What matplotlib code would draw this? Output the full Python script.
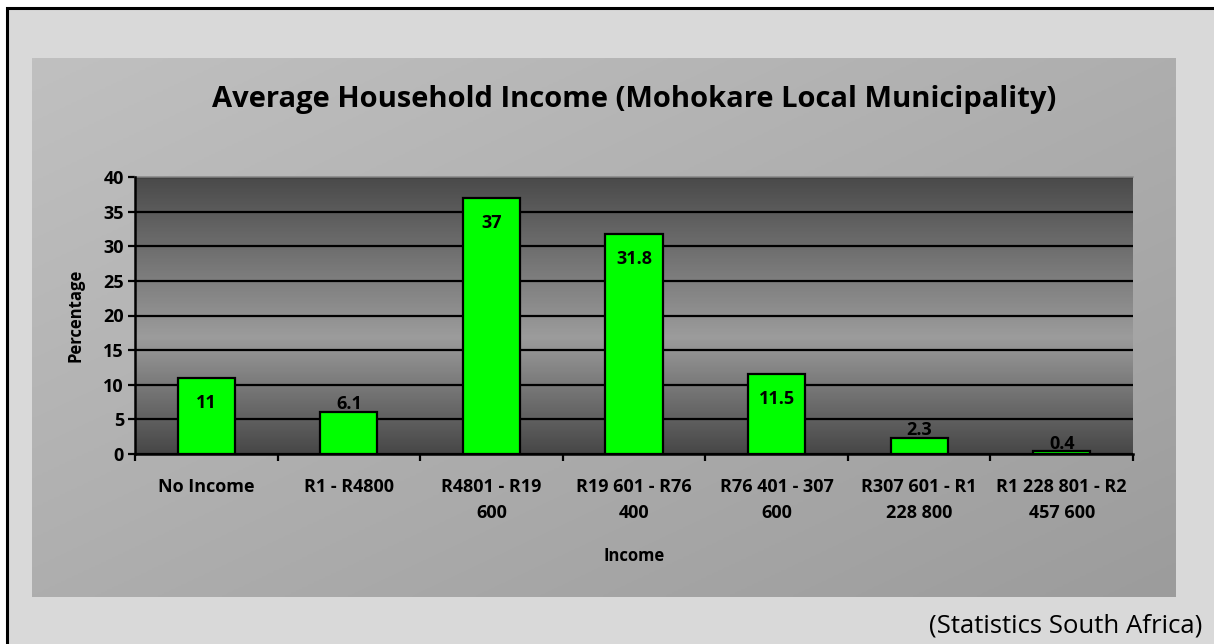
import numpy as np
import matplotlib
matplotlib.use('Agg')
import matplotlib.pyplot as plt
from matplotlib.patches import Rectangle
from matplotlib.colors import LinearSegmentedColormap

plt.rcParams['font.family'] = ['Open Sans', 'DejaVu Sans']

# data
categories = ['No Income', 'R1 - R4800', 'R4801 - R19\n600', 'R19 601 - R76\n400',
              'R76 401 - 307\n600', 'R307 601 - R1\n228 800', 'R1 228 801 - R2\n457 600']
values = [11, 6.1, 37, 31.8, 11.5, 2.3, 0.4]
value_labels = ['11', '6.1', '37', '31.8', '11.5', '2.3', '0.4']
yticks = [0, 5, 10, 15, 20, 25, 30, 35, 40]

W, H = 1214, 644
fig = plt.figure(figsize=(W / 100, H / 100), dpi=100)
fig.patch.set_facecolor('white')

# outer light background with black frame (right and bottom edges fall off the canvas)
fig.patches.append(Rectangle((7 / W, 1 - 660 / H), (1230 - 7) / W, (660 - 8) / H,
                             transform=fig.transFigure, facecolor='#d9d9d9',
                             edgecolor='black', linewidth=2.2, zorder=0))

# chart area with diagonal gray gradient
bg = fig.add_axes([32 / W, 1 - 597 / H, (1176 - 32) / W, (597 - 58) / H], zorder=1)
gx, gy = np.meshgrid(np.linspace(0, 1, 200), np.linspace(0, 1, 200))
diag = (gx + gy) / 2
bg_cmap = LinearSegmentedColormap.from_list('bg', ['#c0c0c0', '#9c9c9c'])
bg.imshow(diag, cmap=bg_cmap, extent=[0, 1, 0, 1], aspect='auto', origin='upper')
bg.axis('off')

ax = fig.add_axes([135 / W, 1 - 454 / H, (1133 - 135) / W, (454 - 177) / H], zorder=2)
ax.patch.set_visible(False)

# plot area gradient: dark at top and bottom, light in the middle
pa_cmap = LinearSegmentedColormap.from_list(
    'pa', [(0, '#474747'), (0.42, '#9c9c9c'), (1, '#4a4a4a')])
grad = np.linspace(0, 1, 300).reshape(-1, 1)
ax.imshow(grad, cmap=pa_cmap, extent=[-0.5, 6.5, 0, 40], aspect='auto',
          origin='lower', zorder=0)

x = np.arange(len(categories))
ax.bar(x, values, width=0.4, color='#00ff00', edgecolor='black', linewidth=1.6, zorder=3)

for xi, v, lab in zip(x, values, value_labels):
    if v >= 10:
        ax.annotate(lab, (xi, v), xytext=(0, -18), textcoords='offset points',
                    ha='center', va='center', fontsize=13, fontweight='bold', zorder=4)
    else:
        ax.annotate(lab, (xi, v), xytext=(0, 5.5), textcoords='offset points',
                    ha='center', va='center', fontsize=13, fontweight='bold', zorder=4)

ax.set_xlim(-0.5, 6.5)
ax.set_ylim(0, 40)
ax.set_yticks(yticks)
ax.set_yticklabels([str(t) for t in yticks], fontsize=13, fontweight='bold')
ax.yaxis.grid(True, color='black', linewidth=1.6, zorder=1)
ax.set_axisbelow(True)

ax.set_xticks(np.arange(-0.5, 7, 1))
ax.set_xticklabels([])
ax.set_xticks(x, minor=True)
ax.set_xticklabels(categories, minor=True, fontsize=13, fontweight='bold',
                   linespacing=1.59, va='top')
ax.tick_params(axis='x', which='minor', length=0, pad=17)
ax.tick_params(axis='x', which='major', length=5, width=1.6, direction='out')
ax.tick_params(axis='y', length=5, width=1.6, direction='out', pad=3)

for s in ['top', 'right']:
    ax.spines[s].set_visible(False)
ax.spines['left'].set_linewidth(1.8)
ax.spines['bottom'].set_linewidth(1.8)
ax.plot([-0.5, 6.5], [40, 40], color='#8a8a8a', linewidth=1.2, zorder=2, clip_on=False)

fig.text(634 / W, 1 - 107 / H, 'Average Household Income (Mohokare Local Municipality)',
         ha='center', va='baseline', fontsize=21, fontweight='bold', zorder=5)
fig.text(75 / W, 1 - 315 / H, 'Percentage', rotation=90, ha='center', va='center',
         fontsize=12, fontweight='bold', zorder=5)
fig.text(634 / W, 1 - 556 / H, 'Income', ha='center', va='center',
         fontsize=12, fontweight='bold', zorder=5)
fig.text(1202 / W, 1 - 626 / H, '(Statistics South Africa)', ha='right', va='center',
         fontsize=18.5, zorder=5)

fig.savefig('out.png', dpi=100)
